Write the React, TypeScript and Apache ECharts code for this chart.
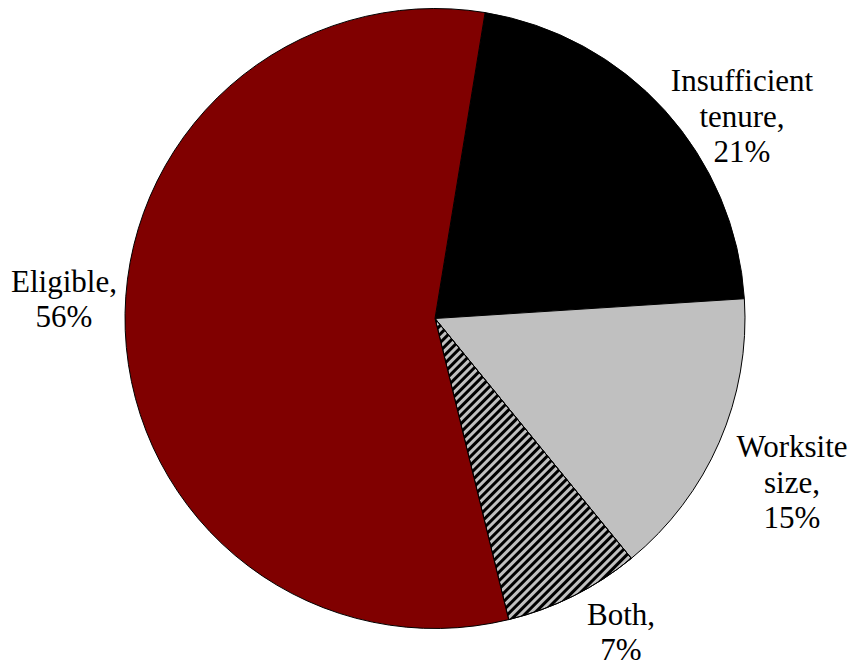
import React, { useEffect, useRef } from "react";
import * as echarts from "echarts";

const categories = ["Insufficient tenure", "Worksite size", "Both", "Eligible"];
const labelLines = [["Insufficient", "tenure,"], ["Worksite", "size,"], ["Both,"], ["Eligible,"]];
const shares = [21.4, 15.1, 7.1, 56.4];
const colors = ["#000000", "#c0c0c0", "#c0c0c0", "#800000"];
const labelPos = [
  [742, 116],
  [792, 482],
  [621, 632],
  [64, 299],
];
const FONT = "Liberation Serif";

export default function App() {
  const ref = useRef<HTMLDivElement>(null);
  useEffect(() => {
    if (!ref.current) return;
    const chart = echarts.init(ref.current, undefined, { renderer: "svg" });
    chart.setOption({
      animation: false,
      backgroundColor: "#ffffff",
      series: [
        {
          type: "pie",
          center: [435, 318.5],
          radius: [0, 310],
          startAngle: 80.7,
          clockwise: true,
          avoidLabelOverlap: false,
          data: categories.map((name, i) => ({
            name,
            value: shares[i],
            itemStyle: {
              color: colors[i],
              borderColor: "#000",
              borderWidth: 1,
              ...(name === "Both"
                ? {
                    decal: {
                      symbol: "rect",
                      color: "#000000",
                      dashArrayX: [1, 0],
                      dashArrayY: [2.2, 2.6],
                      rotation: -Math.PI / 4,
                      symbolSize: 1,
                    },
                  }
                : {}),
            },
            label: {
              formatter: [...labelLines[i], Math.round(shares[i]) + "%"].join("\n"),
              fontFamily: FONT,
            },
          })),
          label: {
            show: true,
            position: "outside",
            fontFamily: FONT,
            fontSize: 31,
            lineHeight: 35.5,
            color: "#000",
            align: "center",
          },
          labelLine: { show: false },
          labelLayout: (params: any) => ({
            x: labelPos[params.dataIndex][0],
            y: labelPos[params.dataIndex][1],
            align: "center",
            verticalAlign: "middle",
          }),
          emphasis: { disabled: true },
        },
      ],
    });
    return () => chart.dispose();
  }, []);
  return (
    <div
      ref={ref}
      style={{ position: "fixed", left: 0, top: 0, width: 849, height: 665 }}
    />
  );
}
